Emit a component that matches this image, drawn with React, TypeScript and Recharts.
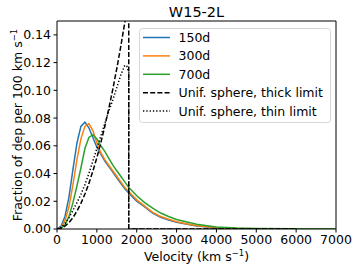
import React from "react";
import { LineChart, Line, XAxis, YAxis, ReferenceLine, Customized } from "recharts";

// velocity bins (km/s)
const modelVel = [0, 100, 200, 300, 400, 500, 600, 700, 800, 900, 1000, 1100, 1200, 1300, 1400, 1500, 1600, 1700, 1800, 1900, 2000, 2200, 2400, 2600, 2800, 3000, 3500, 4000, 4500, 5000, 6000, 7000];
const d150 = [0, 0.002, 0.009, 0.023, 0.043, 0.062, 0.074, 0.077, 0.073, 0.066, 0.059, 0.054, 0.049, 0.045, 0.041, 0.037, 0.033, 0.029, 0.026, 0.023, 0.02, 0.016, 0.0115, 0.0085, 0.0065, 0.0049, 0.0022, 0.0009, 0.0003, 0.0001, 0, 0];
const d300 = [0, 0.001, 0.006, 0.016, 0.032, 0.05, 0.065, 0.074, 0.076, 0.071, 0.062, 0.055, 0.05, 0.046, 0.042, 0.038, 0.034, 0.03, 0.027, 0.024, 0.021, 0.0165, 0.012, 0.009, 0.007, 0.0053, 0.0024, 0.001, 0.0004, 0.0001, 0, 0];
const d700 = [0, 0.0005, 0.003, 0.009, 0.019, 0.031, 0.044, 0.058, 0.066, 0.068, 0.065, 0.06, 0.056, 0.051, 0.046, 0.042, 0.038, 0.034, 0.03, 0.027, 0.024, 0.019, 0.015, 0.0115, 0.009, 0.0069, 0.0035, 0.0015, 0.0007, 0.0003, 0.0001, 0];

const thickVel = [0, 100, 200, 300, 400, 500, 600, 700, 800, 900, 1000, 1100, 1200, 1300, 1400, 1500, 1600, 1700, 1800, 1800, 6000];
const thickVals = [0, 0.0005, 0.0021, 0.0046, 0.0082, 0.0129, 0.0185, 0.0252, 0.0329, 0.0417, 0.0514, 0.0622, 0.0741, 0.0869, 0.1008, 0.1157, 0.1317, 0.1487, 0.1667, 0, 0];

const thinVel = [0, 100, 200, 300, 400, 500, 600, 700, 800, 900, 1000, 1100, 1200, 1300, 1400, 1500, 1600, 1700, 1750, 1800, 1800, 6000];
const thinVals = [0, 0.001, 0.004, 0.008, 0.0135, 0.019, 0.025, 0.032, 0.04, 0.049, 0.058, 0.067, 0.076, 0.085, 0.093, 0.102, 0.111, 0.118, 0.1175, 0.113, 0, 0];

const xTicks = [0, 1000, 2000, 3000, 4000, 5000, 6000, 7000];
const yTicks = [0, 0.02, 0.04, 0.06, 0.08, 0.1, 0.12, 0.14];

const names = ["150d", "300d", "700d", "Unif. sphere, thick limit", "Unif. sphere, thin limit"];
const colors = ["#1f77b4", "#ff7f0e", "#2ca02c", "#000000", "#000000"];
const dashes = [undefined, undefined, undefined, "5 2.2", "1.3 2"];

const toPts = (xs: number[], ys: number[]) => xs.map((v, i) => ({ v, y: ys[i] }));
const series = [
  toPts(modelVel, d150),
  toPts(modelVel, d300),
  toPts(modelVel, d700),
  toPts(thickVel, thickVals),
  toPts(thinVel, thinVals),
];

const FONT = "DejaVu Sans";

function Decor() {
  return (
    <g fontFamily={FONT} fill="#000">
      <text x={196.5} y={17} textAnchor="middle" fontSize={14.5}>W15-2L</text>
      <text x={196.5} y={261} textAnchor="middle" fontSize={12.5}>
        Velocity (km s<tspan fontSize={8.5} dy={-5}>−1</tspan><tspan dy={5}>)</tspan>
      </text>
      <text x={22} y={125} textAnchor="middle" fontSize={12.5} transform="rotate(-90, 22, 125)">
        Fraction of dep per 100 km s<tspan fontSize={8.5} dy={-5}>−1</tspan>
      </text>
      <rect x={139.5} y={28.5} width={191} height={94} rx={3} fill="#fff" fillOpacity={0.8} stroke="#d6d6d6" />
      {names.map((n, i) => (
        <g key={n}>
          <line x1={143} x2={170} y1={37.5 + i * 18.4} y2={37.5 + i * 18.4} stroke={colors[i]} strokeWidth={1.5} strokeDasharray={dashes[i]} />
          <text x={178.5} y={37.5 + i * 18.4} dominantBaseline="central" fontSize={12.5}>{n}</text>
        </g>
      ))}
    </g>
  );
}

export default function App() {
  return (
    <div style={{ position: "absolute", left: 0, top: 0, width: 357, height: 271, background: "#fff" }}>
      <LineChart width={357} height={271} margin={{ top: 21, right: 21, left: 0, bottom: 0 }}>
        <XAxis
          dataKey="v"
          type="number"
          domain={[0, 7000]}
          ticks={xTicks}
          height={42}
          tickSize={3.5}
          tickMargin={3}
          stroke="#000"
          tick={{ fill: "#000", fontSize: 12.5, fontFamily: FONT }}
          allowDataOverflow
        />
        <YAxis
          dataKey="y"
          type="number"
          domain={[0, 0.15]}
          ticks={yTicks}
          width={57}
          tickSize={3.5}
          tickMargin={2.5}
          stroke="#000"
          tickFormatter={(t: number) => t.toFixed(2)}
          tick={{ fill: "#000", fontSize: 12.5, fontFamily: FONT }}
          allowDataOverflow
        />
        <ReferenceLine y={0.15} stroke="#000" strokeWidth={1} ifOverflow="visible" />
        <ReferenceLine x={7000} stroke="#000" strokeWidth={1} ifOverflow="visible" />
        {series.map((s, i) => (
          <Line
            key={names[i]}
            data={s}
            dataKey="y"
            name={names[i]}
            type="linear"
            stroke={colors[i]}
            strokeWidth={1.5}
            strokeDasharray={dashes[i]}
            dot={false}
            activeDot={false}
            isAnimationActive={false}
          />
        ))}
        <Customized component={Decor} />
      </LineChart>
    </div>
  );
}
